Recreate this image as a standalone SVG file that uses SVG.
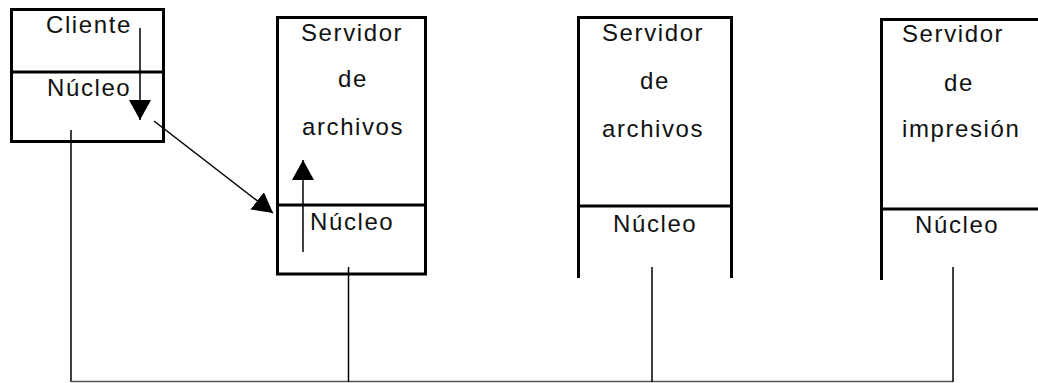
<svg xmlns="http://www.w3.org/2000/svg" width="1038" height="383" viewBox="0 0 1038 383">
<style>
.box{fill:none;stroke:#000;stroke-width:3}
.t{font-family:"Liberation Sans",Arial,sans-serif;font-size:24px;letter-spacing:1.6px;fill:#111}
.c{fill:none;stroke:#000;stroke-width:1.5}
.bus{fill:none;stroke:#555;stroke-width:1.5}
</style>
<defs>
<marker id="ah" markerUnits="userSpaceOnUse" markerWidth="20" markerHeight="22" viewBox="0 0 20 22" refX="20" refY="11" orient="auto">
<path d="M0 0 L20 11 L0 22 Z" fill="#000"/>
</marker>
</defs>
<rect width="1038" height="383" fill="#fff"/>
<g id="cliente">
<rect class="box" x="11.5" y="9.5" width="152" height="132"/>
<line class="box" x1="11.5" y1="72" x2="163.5" y2="72"/>
<text class="t" x="46" y="33">Cliente</text>
<text class="t" x="47" y="96">Núcleo</text>
</g>
<g id="servidor-archivos-1">
<rect class="box" x="277.5" y="17.5" width="148" height="256.5"/>
<line class="box" x1="277.5" y1="205" x2="425.5" y2="205"/>
<text class="t" x="301" y="41">Servidor</text>
<text class="t" x="338" y="87">de</text>
<text class="t" x="302" y="135">archivos</text>
<text class="t" x="310" y="230">Núcleo</text>
</g>
<g id="servidor-archivos-2">
<path class="box" d="M578.5 278 V17.5 H731.5 V278"/>
<line class="box" x1="578.5" y1="206" x2="731.5" y2="206"/>
<text class="t" x="602" y="41">Servidor</text>
<text class="t" x="640" y="89">de</text>
<text class="t" x="602" y="137">archivos</text>
<text class="t" x="613" y="232">Núcleo</text>
</g>
<g id="servidor-impresion">
<path class="box" d="M881.5 280 V19.5 H1040"/>
<line class="box" x1="881.5" y1="209" x2="1040" y2="209"/>
<text class="t" x="902" y="42">Servidor</text>
<text class="t" x="944" y="91">de</text>
<text class="t" x="902" y="137">impresión</text>
<text class="t" x="915" y="233">Núcleo</text>
</g>
<g id="connectors">
<path class="c" d="M71 130 V382"/>
<path class="bus" d="M71 381.5 H953"/>
<path class="c" d="M348.5 267 V382"/>
<path class="c" d="M652 267 V382"/>
<path class="c" d="M953 267 V382"/>
<path class="c" d="M140 28 V120" marker-end="url(#ah)"/>
<path class="c" d="M154 121 L273 213" marker-end="url(#ah)"/>
<path class="c" d="M303 252 V160" marker-end="url(#ah)"/>
</g>
</svg>
